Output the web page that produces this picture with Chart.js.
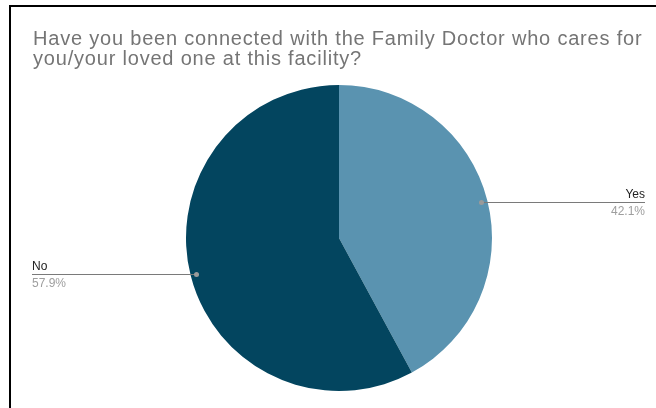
<!DOCTYPE html>
<html>
<head>
<meta charset="utf-8">
<script src="https://cdn.jsdelivr.net/npm/chart.js@4"></script>
<style>
  html, body { margin: 0; padding: 0; background: #fff; }
  body { width: 656px; height: 408px; position: relative; overflow: hidden; }
  #frame { position: absolute; left: 9px; top: 5px; width: 700px; height: 420px;
           border-top: 2px solid #000; border-left: 2px solid #000; }
  #wrap { position: absolute; left: 0; top: 0; width: 656px; height: 408px; }
</style>
</head>
<body>
<div id="frame"></div>
<div id="wrap"><canvas id="chart" width="656" height="408"></canvas></div>
<script>
const titleLines = ['Have you been connected with the Family Doctor who cares for', 'you/your loved one at this facility?']
const labels = ['Yes', 'No']
const percents = [42.1, 57.9]
const colors = ['#5a93b0', '#03455f']

// the title in the export is a bit wider than Liberation Sans, so space it out
const titleSpacing = {
  id: 'titleSpacing',
  beforeDraw(chart) {
    chart.ctx.letterSpacing = '0.8px'
  },
  beforeDatasetsDraw(chart) {
    chart.ctx.letterSpacing = '0px'
  }
}

// leader lines + labels like the sheet export
const sideLabels = {
  id: 'sideLabels',
  afterDatasetsDraw(chart) {
    const ctx = chart.ctx
    const area = chart.chartArea
    const meta = chart.getDatasetMeta(0)
    meta.data.forEach((arc, i) => {
      const p = arc.getProps(['x', 'y', 'startAngle', 'endAngle', 'outerRadius'], true)
      const mid = (p.startAngle + p.endAngle) / 2
      const r = p.outerRadius - 6
      const px = p.x + Math.cos(mid) * r
      const py = Math.round(p.y + Math.sin(mid) * r) + 0.5
      const right = Math.cos(mid) >= 0
      const endX = right ? area.right : area.left - 1

      ctx.save()
      ctx.letterSpacing = '0px'
      ctx.strokeStyle = '#7a7a7a'
      ctx.lineWidth = 1
      ctx.beginPath()
      ctx.moveTo(px, py)
      ctx.lineTo(endX, py)
      ctx.stroke()
      ctx.fillStyle = '#9a9a9a'
      ctx.beginPath()
      ctx.arc(px, py, 2.5, 0, Math.PI * 2)
      ctx.fill()

      ctx.textAlign = right ? 'right' : 'left'
      ctx.textBaseline = 'alphabetic'
      ctx.font = '12px "Liberation Sans", Arial, sans-serif'
      ctx.fillStyle = '#222'
      ctx.fillText(labels[i], endX, py - 4.5)
      ctx.fillStyle = '#9e9e9e'
      ctx.fillText(percents[i].toFixed(1) + '%', endX, py + 12)
      ctx.restore()
    })
  }
}

new Chart(document.getElementById('chart'), {
  type: 'pie',
  data: {
    labels: labels,
    datasets: [{
      data: percents,
      backgroundColor: colors,
      borderWidth: 0
    }]
  },
  options: {
    responsive: false,
    animation: false,
    layout: { padding: { top: 0, left: 33, right: 11, bottom: 17 } },
    plugins: {
      legend: { display: false },
      tooltip: { enabled: false },
      title: {
        display: true,
        text: titleLines,
        align: 'start',
        color: '#757575',
        font: { family: '"Liberation Sans", Arial, sans-serif', size: 20, weight: 'normal', lineHeight: 1.0 },
        padding: { top: 29, bottom: 16 }
      }
    }
  },
  plugins: [titleSpacing, sideLabels]
})
</script>
</body>
</html>
